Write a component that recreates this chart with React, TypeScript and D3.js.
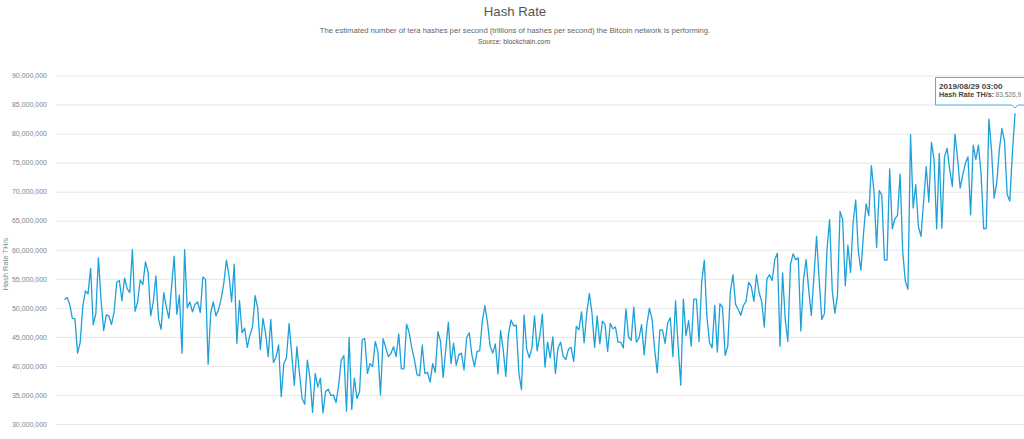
import React, { useEffect, useRef } from 'react';
import { select, scaleLinear, scalePoint, axisLeft, line, range, format } from 'd3';

// hash rate in millions of TH/s
const hashRate1 = [
    51.4, 51.8, 50.6, 48.2, 48.1, 42.2, 44.0, 50.3, 52.9, 52.4, 56.8, 47.1, 49.0, 58.6, 51.3, 46.1, 48.8, 48.6, 47.1, 49.3,
    54.4, 54.7, 51.2, 55.1, 53.3, 52.6, 60.0, 49.4, 51.0, 54.8, 54.0, 57.9, 56.2, 48.6, 51.0, 55.5, 48.1, 46.3, 52.6, 50.1,
    48.2, 53.6, 58.9, 48.9, 52.2, 42.2, 60.0, 50.0, 51.0, 49.3, 50.6, 51.0, 49.2, 55.3, 54.9, 40.3, 49.2, 51.0, 48.6, 49.7,
    51.6, 54.2, 58.2, 55.6, 51.0, 57.5, 43.9, 51.3, 45.7, 46.5, 43.2, 45.3, 46.7, 52.1, 49.9, 42.8, 48.2, 45.6, 41.6, 48.0,
    40.6, 41.5, 43.6, 34.7, 40.4, 41.4, 47.3, 42.2, 36.7, 43.3, 38.7, 34.4, 33.4, 41.0, 37.9, 32.0, 38.7, 36.4, 37.9, 31.9,
    35.6, 36.0, 34.9, 35.0, 33.7, 36.7, 41.0, 41.8, 32.2, 44.9,
];
const hashRate2 = [
    32.5, 37.9, 34.4, 35.6, 44.5, 44.7, 38.7, 40.4, 39.9, 44.2, 42.5, 35.0, 44.7, 43.2, 41.6, 42.1, 43.3, 41.6, 45.5, 39.5,
    39.5, 47.2, 45.7, 43.1, 41.1, 38.5, 38.3, 43.6, 38.7, 38.9, 37.2, 40.4, 38.9, 45.9, 44.2, 38.0, 42.8, 47.5, 40.4, 43.9,
    40.1, 41.9, 42.2, 39.3, 44.9, 45.7, 41.9, 39.9, 42.5, 42.6, 47.7, 50.4, 47.4, 43.4, 42.2, 43.8, 38.6, 46.1, 42.8, 38.2,
    45.4, 47.9, 46.9, 47.0, 38.8, 35.9, 48.8, 42.9, 41.4, 43.1, 48.6, 42.6, 45.1, 48.9, 39.8, 44.1, 41.4, 45.0, 38.7, 43.1,
    44.1, 41.6, 41.1, 42.9, 43.2, 40.8, 46.8, 46.2, 49.3, 44.0, 49.1, 52.5, 49.1, 43.2, 48.6, 43.8, 47.7, 47.1, 42.5, 47.3,
    46.4, 46.7, 44.1, 44.1, 43.1, 49.8, 45.0, 44.4, 50.1, 44.1, 44.8, 47.1, 41.9, 47.1, 49.9, 48.1, 42.8, 38.8, 46.2, 46.2,
    43.9, 47.4, 48.3, 41.6, 51.2, 43.4, 36.7, 51.5, 45.2, 47.8,
];
const hashRate3 = [
    43.4, 51.5, 51.5, 44.2, 54.3, 58.2, 48.5, 44.0, 43.1, 50.4, 42.4, 50.7, 50.1, 41.8, 43.4, 52.8, 55.7, 50.6, 49.7, 48.7,
    50.4, 51.1, 54.4, 53.7, 51.1, 55.7, 52.6, 51.1, 46.7, 55.0, 55.7, 54.7, 58.3, 59.4, 43.4, 56.0, 48.0, 44.2, 57.4, 59.3,
    58.3, 58.6, 46.0, 54.9, 58.3, 53.1, 48.7, 55.4, 62.3, 54.9, 48.0, 49.0, 60.0, 65.2, 53.1, 49.1, 52.0, 66.6, 65.2, 53.8,
    60.8, 56.1, 64.6, 68.6, 59.7, 56.5, 62.9, 67.9, 65.9, 74.5, 70.0, 60.4, 70.2, 69.4, 58.2, 58.2, 73.9, 63.6, 65.3, 65.9,
    73.0, 59.7, 54.6, 53.2, 79.8, 67.2, 71.2, 64.0, 62.3, 68.3, 74.3, 68.2, 78.5, 75.5, 63.6, 76.6, 63.7, 76.0, 77.5, 73.8,
    70.9, 79.9, 75.8, 70.6, 72.9, 74.9, 76.0, 66.0, 78.0, 75.5, 78.0, 73.2, 63.6, 63.7, 82.5, 77.2, 68.9, 71.5, 77.2, 80.9,
    78.6, 69.5, 68.4, 76.6, 83.5,
];
const hashRate = [...hashRate1, ...hashRate2, ...hashRate3];

const yTicks = [30, 35, 40, 45, 50, 55, 60, 65, 70, 75, 80, 85, 90];

const titleText = 'Hash Rate';
const subtitleText = 'The estimated number of tera hashes per second (trillions of hashes per second) the Bitcoin network is performing.';
const sourceText = 'Source: blockchain.com';
const yAxisLabel = 'Hash Rate TH/s';
const tooltipDate = '2019/08/29 03:00';
const tooltipSeries = 'Hash Rate TH/s:';
const tooltipValue = '83,526,9';

const width = 1024;
const height = 439;
const sans = '"Liberation Sans", Arial, sans-serif';
const lineColor = '#1ea0d8';

export default function App() {
    const axisRef: { current: SVGGElement | null } = useRef(null);

    const xScale: any = scalePoint()
        .domain(range(hashRate.length) as any)
        .range([64.5, 1015]);
    const yScale = scaleLinear().domain([30, 90]).range([424, 75.5]);

    const hashLine: any = line()
        .x((d: any, i: number) => xScale(i))
        .y((d: any) => yScale(d));

    useEffect(() => {
        const axis: any = axisLeft(yScale)
            .tickValues(yTicks)
            .tickSize(-(width - 56))
            .tickPadding(9)
            .tickFormat((d: any) => format(',')(d * 1000000));
        const g = select(axisRef.current);
        g.call(axis);
        g.select('.domain').remove();
        g.selectAll('.tick line').attr('stroke', '#e6e6e6');
        g.selectAll('.tick text')
            .attr('fill', '#80868c')
            .attr('font-family', sans)
            .attr('font-size', 7);
    }, []);

    const lastX = xScale(hashRate.length - 1);

    return (
        <svg width={width} height={height} style={{ position: 'absolute', left: 0, top: 0, display: 'block' }}>
            <rect width={width} height={height} fill="#fff" />
            <text x={515} y={16} textAnchor="middle" fontFamily={sans} fontSize={13.2} fill="#555">
                {titleText}
            </text>
            <text x={515} y={32.5} textAnchor="middle" fontFamily={sans} fontSize={7.7} fill="#666">
                {subtitleText}
            </text>
            <text x={514} y={44} textAnchor="middle" fontFamily={sans} fontSize={6.8} fill="#555">
                {sourceText}
            </text>
            <g ref={axisRef} transform="translate(56,0)" />
            <text
                transform="translate(7.5,264) rotate(-90)"
                textAnchor="middle"
                fontFamily={sans}
                fontSize={7.4}
                fill="#80868c"
            >
                {yAxisLabel}
            </text>
            <path d={hashLine(hashRate)} fill="none" stroke={lineColor} strokeWidth={1.3} strokeLinejoin="round" />
            {/* tooltip, runs off the right edge like the original */}
            <path
                d={`M935.5,77.5 H1040 V105 H${lastX + 3} L${lastX},108 L${lastX - 3},105 H935.5 Z`}
                fill="#fff"
                stroke="#4fb0dc"
                strokeWidth={1}
            />
            <text x={939} y={88.5} fontFamily={sans} fontSize={8.1} fontWeight="bold" fill="#444">
                {tooltipDate}
            </text>
            <text x={939} y={97} fontFamily={sans} fontSize={7.2} fontWeight="bold" fill="#444">
                {tooltipSeries}
            </text>
            <text x={995.5} y={97} fontFamily={sans} fontSize={6.6} fill="#777">
                {tooltipValue}
            </text>
        </svg>
    );
}
